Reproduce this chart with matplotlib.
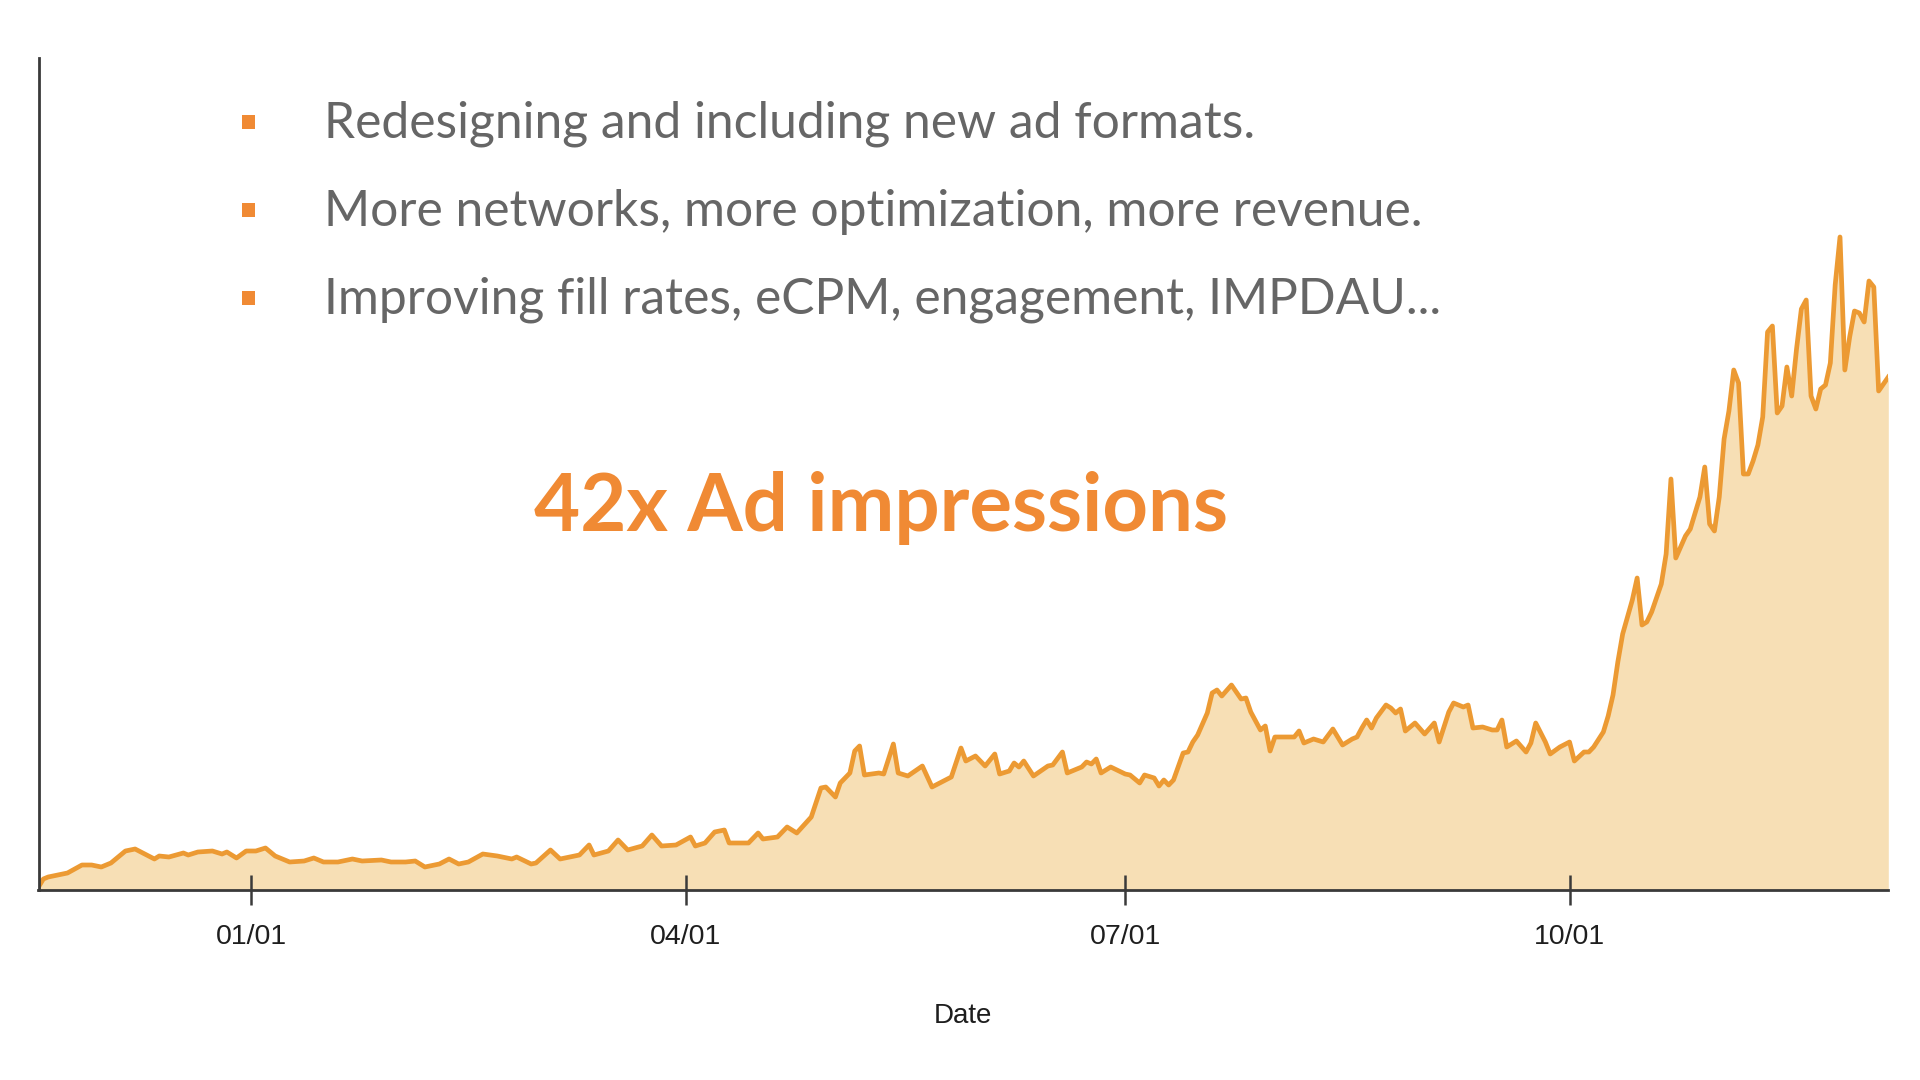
import numpy as np
import pandas as pd
import matplotlib
matplotlib.use("Agg")
import matplotlib.pyplot as plt
import matplotlib.dates as mdates
from matplotlib.patches import Rectangle

# ---------------- data ----------------
start_date = "2016-11-18"
day_offset = [
    0, 1, 2, 4, 6, 9, 11, 13, 15, 18, 20, 22, 24, 25, 27, 30, 31, 33, 36, 38,
    39, 41, 43, 45, 47, 49, 52, 55, 57, 59, 62, 65, 67, 71, 73, 76, 78, 80, 83, 85,
    87, 89, 92, 95, 98, 99, 102, 103, 106, 108, 112, 114, 115, 118, 120, 122, 125, 127, 129, 132,
    135, 136, 138, 140, 142, 143, 147, 149, 150, 153, 155, 157, 160, 162, 163, 165, 166, 168, 169, 170,
    171, 174, 175, 177, 178, 180, 183, 185, 189, 191, 192, 194, 196, 198, 199, 201, 202, 203, 204, 206,
    209, 210, 212, 213, 216, 217, 218, 219, 220, 222, 225, 226, 228, 229, 231, 232, 233, 234, 235, 237,
    238, 239, 240, 242, 243, 244, 245, 247, 249, 250, 251, 253, 254, 255, 256, 258, 260, 261, 262, 264,
    266, 268, 270, 272, 273, 274, 275, 276, 277, 279, 280, 281, 282, 283, 285, 287, 289, 290, 292, 293,
    295, 296, 297, 299, 301, 302, 303, 304, 306, 308, 309, 310, 312, 313, 315, 317, 318, 320, 321, 322,
    324, 325, 326, 327, 328, 330, 331, 332, 333, 334, 336, 337, 338, 339, 341, 342, 344, 345, 346, 347,
    348, 349, 350, 351, 352, 353, 354, 355, 356, 357, 358, 359, 360, 361, 362, 363, 364, 365, 366, 367,
    368, 369, 370, 371, 372, 373, 374, 375, 376, 377, 378, 379, 380, 381, 383,
]
impressions = [
    3, 11, 13, 15, 17, 25, 25, 23, 27, 39, 41, 36, 31, 34, 33, 37, 35, 38, 39, 36,
    38, 32, 39, 39, 42, 34, 28, 29, 32, 28, 28, 31, 29, 30, 28, 28, 29, 23, 26, 31,
    26, 28, 36, 34, 31, 33, 26, 27, 40, 31, 35, 45, 35, 39, 50, 40, 44, 55, 44, 45,
    53, 44, 47, 58, 60, 47, 47, 57, 51, 53, 63, 57, 73, 102, 103, 93, 107, 117, 139, 144,
    115, 117, 116, 146, 117, 114, 124, 103, 113, 142, 129, 134, 124, 136, 116, 119, 127, 123, 129, 114,
    124, 125, 138, 117, 123, 128, 126, 131, 117, 123, 116, 115, 107, 115, 112, 104, 110, 105, 110, 137,
    138, 148, 155, 177, 197, 200, 194, 205, 191, 192, 178, 160, 164, 139, 153, 153, 153, 159, 147, 151,
    148, 161, 145, 151, 153, 162, 170, 162, 172, 185, 182, 177, 181, 159, 167, 156, 167, 148, 178, 187,
    183, 185, 162, 163, 160, 160, 170, 143, 149, 138, 147, 167, 148, 136, 143, 148, 129, 138, 138, 143,
    158, 174, 195, 228, 256, 290, 312, 265, 268, 278, 306, 336, 411, 332, 354, 361, 393, 423, 366, 359,
    393, 451, 479, 520, 507, 416, 416, 429, 445, 473, 558, 564, 477, 484, 523, 494, 541, 581, 590, 494,
    481, 501, 505, 527, 605, 653, 520, 553, 579, 577, 568, 609, 603, 499, 513,
]
tick_dates = ["2017-01-01", "2017-04-01", "2017-07-01", "2017-10-01"]
x_label = "Date"
bullets = [
    "Redesigning and including new ad formats.",
    "More networks, more optimization, more revenue.",
    "Improving fill rates, eCPM, engagement, IMPDAU...",
]
headline = "42x Ad impressions"

# ---------------- styling ----------------
LINE = "#EC9A33"
FILL = "#F7DFB5"
ORANGE = "#F08A34"
GRAY = "#666666"
AXIS = "#3a3a3a"

W, H = 1920, 1080
fig = plt.figure(figsize=(W / 100, H / 100), dpi=100)
fig.patch.set_facecolor("white")

left, right, bottom, top = 38.5, 1888.3, 890, 57.5
ax = fig.add_axes([left / W, 1 - bottom / H, (right - left) / W, (bottom - top) / H])

dates = pd.to_datetime(start_date) + pd.to_timedelta(day_offset, unit="D")
values = np.array(impressions, dtype=float)

ax.fill_between(dates, values, 0, color=FILL, linewidth=0, zorder=1)
ax.plot(dates, values, color=LINE, linewidth=3.4, solid_joinstyle="round", zorder=2)

ax.set_xlim(dates[0], dates[-1])
ax.set_ylim(0, 832.5)

for s in ["top", "right"]:
    ax.spines[s].set_visible(False)
for s in ["left", "bottom"]:
    ax.spines[s].set_color(AXIS)
    ax.spines[s].set_linewidth(2)
ax.spines["bottom"].set_zorder(3)

ax.set_yticks([])
ax.set_xticks(pd.to_datetime(tick_dates))
ax.xaxis.set_major_formatter(mdates.DateFormatter("%m/%d"))
ax.tick_params(axis="x", direction="inout", length=21, width=1.8, color=AXIS,
               labelsize=20.5, labelcolor="#1e1e1e", pad=14)
for lbl in ax.get_xticklabels():
    lbl.set_fontfamily(["Liberation Sans", "DejaVu Sans"])
ax.set_xlabel(x_label, fontsize=20, color="#1e1e1e", labelpad=38,
              fontfamily=["Liberation Sans", "DejaVu Sans"])
ax.set_facecolor("none")

# ---------------- text overlay ----------------
line_y = [124, 212, 300]
for y, txt in zip(line_y, bullets):
    fig.patches.append(Rectangle(((248.6 - 6.5) / W, 1 - (y - 2 + 6.5) / H), 13 / W, 13 / H,
                                 transform=fig.transFigure, facecolor=ORANGE,
                                 edgecolor="none", zorder=5))
    fig.text(324 / W, 1 - y / H, txt, fontsize=35.8, color=GRAY, va="center", ha="left",
             fontfamily=["Lato", "DejaVu Sans"], zorder=5)

fig.text(881.5 / W, 1 - 508 / H, headline, fontsize=57.3, color=ORANGE, fontweight="bold",
         va="center", ha="center", fontfamily=["Lato", "DejaVu Sans"], zorder=5)

fig.savefig("out.png", dpi=100, facecolor="white")
